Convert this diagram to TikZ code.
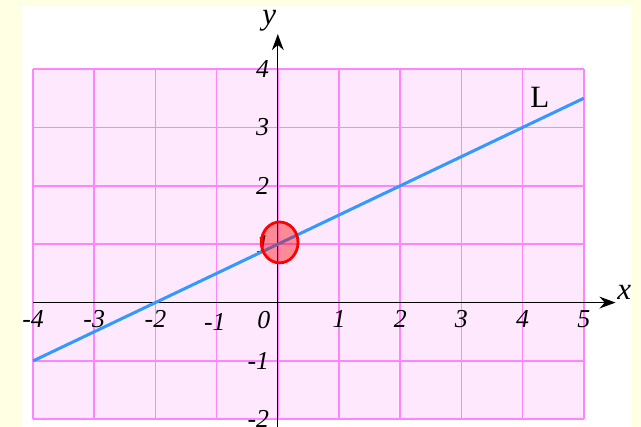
\documentclass[tikz,border=0pt]{standalone}
\usepackage{fontspec}
\setmainfont{Liberation Serif}
\usetikzlibrary{arrows.meta}
\definecolor{bgyellow}{HTML}{FFFFE3}
\definecolor{gridpink}{HTML}{FF85FF}
\definecolor{cellpink}{HTML}{FDE8FD}
\definecolor{lineblue}{HTML}{3399FF}
\tikzset{
  gridline/.style={gridpink,line width=0.8pt},
  axis/.style={line width=0.6pt,-{Stealth[length=7.5pt,width=5.5pt]}},
  ticklabel/.style={font=\large\itshape,inner sep=1pt}
}

\begin{document}
\begin{tikzpicture}[x=1cm,y=0.954cm]
  \useasboundingbox (-4.54,-2.128) rectangle (5.935,5.183);
  \fill[bgyellow] (-4.54,-2.128) rectangle (5.935,5.183);
  \fill[white] (-4.18,-2.128) rectangle (5.79,5.08);
  \fill[cellpink] (-4,-2) rectangle (5,4);
  \foreach \i in {-4,...,5}
    \draw[gridline] (\i,-2) -- (\i,4);
  \foreach \j in {-2,...,4}
    \draw[gridline] (-4,\j) -- (5,\j);
  \draw[axis] (-4,0) -- (5.52,0);
  \draw[axis] (0,-2.13) -- (0,4.6);
  \node[ticklabel,font=\Large\itshape] (xlab) at (5.66,0.17) {x};
  \node[ticklabel,font=\Large\itshape] (ylab) at (-0.14,4.83) {y};
  \foreach \i in {-4,-3,-2,1,2,3,4,5}
    \node[ticklabel] (x\i) at (\i,-0.28) {\i};
  \node[ticklabel] (xm1) at (-1.03,-0.34) {-1};
  \node[ticklabel] (x0) at (-0.23,-0.3) {0};
  \foreach \j in {-2,-1,1,2,3,4}
    \node[ticklabel,anchor=east] (y\j) at (-0.1,\j) {\j};
  \coordinate (Lstart) at (-4,-1);
  \coordinate (Lend) at (5,3.5);
  \draw[lineblue,line width=1.4pt] (Lstart) -- (Lend);
  \node[font=\Large] (Llab) at (4.28,3.52) {L};
  \draw[red,line width=1.3pt,fill=red,fill opacity=0.4] (0.03,1.03) ellipse (0.3 and 0.35);
\end{tikzpicture}
\end{document}
